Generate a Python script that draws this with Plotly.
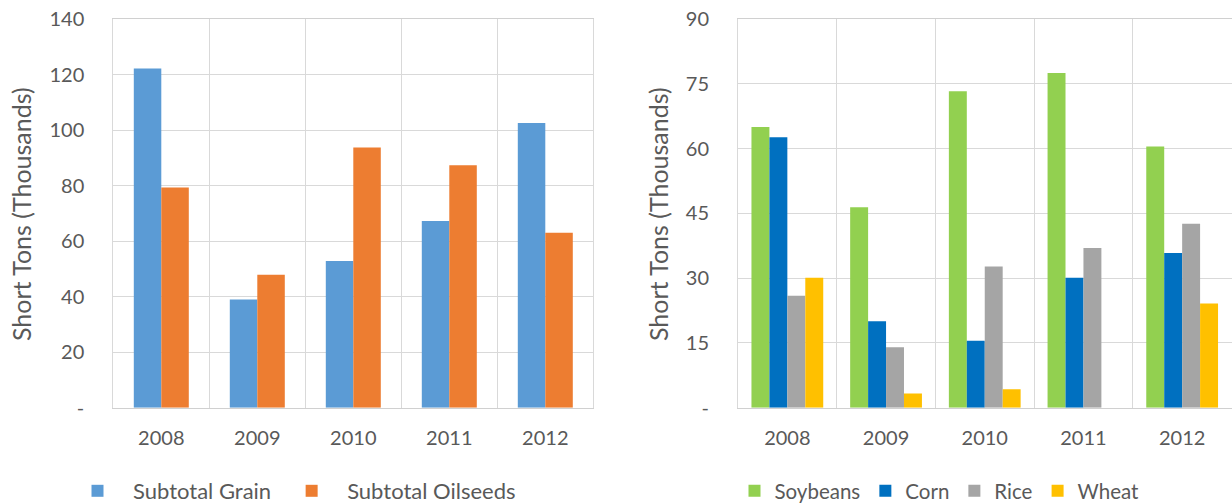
import plotly.graph_objects as go

# ---------------- data ----------------
years = ["2008", "2009", "2010", "2011", "2012"]

subtotal_grain = [122.2, 39.0, 52.8, 67.2, 102.5]
subtotal_oilseeds = [79.3, 47.9, 93.7, 87.3, 63.0]

soybeans = [65.0, 46.4, 73.3, 77.5, 60.5]
corn = [62.6, 20.0, 15.5, 30.1, 35.8]
rice = [25.9, 14.0, 32.7, 37.0, 42.6]
wheat = [30.1, 3.3, 4.3, 0.0, 24.1]

left_ticks = [0, 20, 40, 60, 80, 100, 120, 140]
left_ticktext = ["-", "20", "40", "60", "80", "100", "120", "140"]
right_ticks = [0, 15, 30, 45, 60, 75, 90]
right_ticktext = ["-", "15", "30", "45", "60", "75", "90"]

y_title = "Short Tons (Thousands)"

# ---------------- style ----------------
FONT = "Lato, 'Open Sans', sans-serif"
TXT = "#595959"
GRID = "#D9D9D9"
W, H = 1232, 504

LEFT_BAR_W = 0.2865
RIGHT_BAR_W = 0.1818

fig = go.Figure()

left_series = [
    ("Subtotal Grain", subtotal_grain, "#5B9BD5"),
    ("Subtotal Oilseeds", subtotal_oilseeds, "#ED7D31"),
]
n = len(left_series)
for i, (name, vals, col) in enumerate(left_series):
    fig.add_trace(go.Bar(
        x=years, y=vals, name=name, marker=dict(color=col, line=dict(width=0)),
        width=LEFT_BAR_W, offset=-n / 2 * LEFT_BAR_W + i * LEFT_BAR_W,
        xaxis="x", yaxis="y", legend="legend",
    ))

right_series = [
    ("Soybeans", soybeans, "#92D050"),
    ("Corn", corn, "#0070C0"),
    ("Rice", rice, "#A5A5A5"),
    ("Wheat", wheat, "#FFC000"),
]
n = len(right_series)
for i, (name, vals, col) in enumerate(right_series):
    fig.add_trace(go.Bar(
        x=years, y=vals, name=name, marker=dict(color=col, line=dict(width=0)),
        width=RIGHT_BAR_W, offset=-n / 2 * RIGHT_BAR_W + i * RIGHT_BAR_W,
        xaxis="x2", yaxis="y2", legend="legend2",
    ))

ydom = [(H - 407.7) / H, (H - 19) / H]

xaxis_common = dict(
    type="category", tickson="boundaries", showgrid=True, gridcolor=GRID, gridwidth=1,
    showline=True, mirror=True, linecolor="#D0D0D0", linewidth=1,
    ticks="", tickfont=dict(family=FONT, size=20, color=TXT),
    ticklabelstandoff=12, fixedrange=True, automargin=False,
)
yaxis_common = dict(
    showgrid=True, gridcolor=GRID, gridwidth=1, zeroline=False,
    showline=True, mirror=True, linecolor=GRID, linewidth=1,
    ticks="", tickfont=dict(family=FONT, size=20, color=TXT),
    ticklabelstandoff=24, domain=ydom, fixedrange=True, automargin=False,
)

fig.update_layout(
    width=W, height=H,
    margin=dict(l=0, r=0, t=0, b=0, autoexpand=False),
    paper_bgcolor="white", plot_bgcolor="white",
    barmode="overlay",
    font=dict(family=FONT, color=TXT),
    xaxis=dict(domain=[113.3 / W, 593.3 / W], anchor="y", **xaxis_common),
    xaxis2=dict(domain=[738 / W, 1231.5 / W], anchor="y2", **xaxis_common),
    yaxis=dict(range=[0, 140], tickvals=left_ticks, ticktext=left_ticktext,
               anchor="x", **yaxis_common),
    yaxis2=dict(range=[0, 90], tickvals=right_ticks, ticktext=right_ticktext,
                anchor="x2", **yaxis_common),
    legend=dict(orientation="h", x=62 / W, xanchor="left",
                y=(H - 491) / H, yanchor="middle",
                font=dict(family=FONT, size=22, color=TXT),
                itemwidth=61,
                bgcolor="rgba(0,0,0,0)"),
    legend2=dict(orientation="h", x=734.5 / W, xanchor="left",
                 y=(H - 491) / H, yanchor="middle",
                 font=dict(family=FONT, size=20.5, color=TXT),
                 itemwidth=30,
                 bgcolor="rgba(0,0,0,0)"),
    annotations=[
        dict(text=y_title, textangle=-90, x=21 / W, y=(H - 214) / H,
             xref="paper", yref="paper", xanchor="center", yanchor="middle",
             showarrow=False, font=dict(family=FONT, size=25, color=TXT)),
        dict(text=y_title, textangle=-90, x=658 / W, y=(H - 214) / H,
             xref="paper", yref="paper", xanchor="center", yanchor="middle",
             showarrow=False, font=dict(family=FONT, size=25, color=TXT)),
    ],
)

fig.write_html("out.html")
